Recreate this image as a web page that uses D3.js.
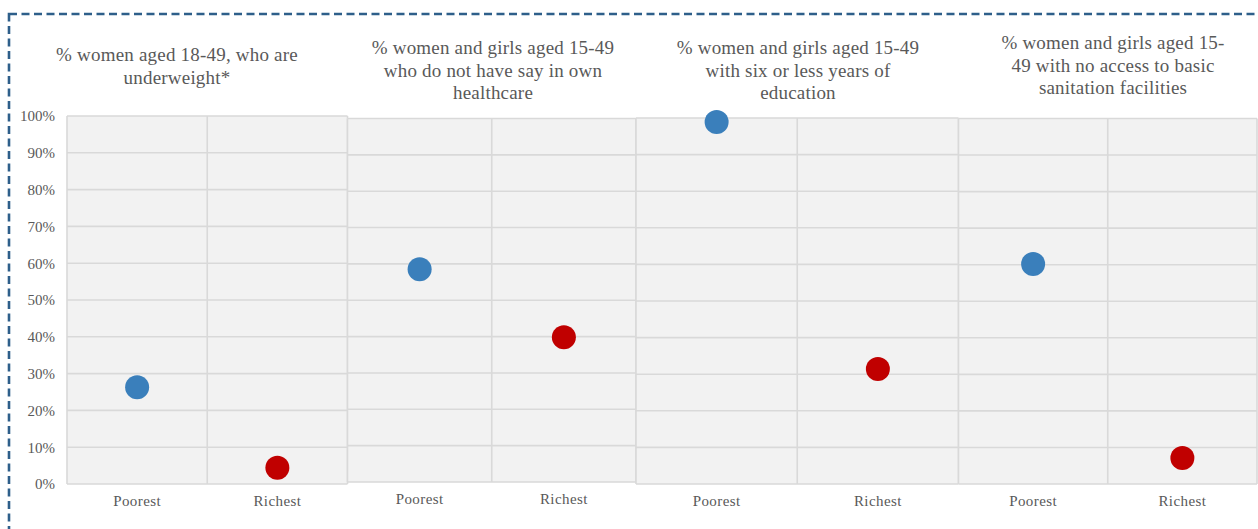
<!DOCTYPE html>
<html>
<head>
<meta charset="utf-8">
<script src="https://cdn.jsdelivr.net/npm/d3@7/dist/d3.min.js"></script>
<style>
  html, body { margin: 0; padding: 0; background: #ffffff; }
  svg { display: block; }
  text, tspan { font-family: "Liberation Serif", "DejaVu Serif", serif; fill: #595959; }
</style>
</head>
<body>
<svg id="chart" width="1258" height="529"></svg>
<script>
// ---- data ----
const categories = ["Poorest", "Richest"];
const panelTitles = [
  ["% women aged 18-49, who are", "underweight*"],
  ["% women and girls aged 15-49", "who do not have say in own", "healthcare"],
  ["% women and girls aged 15-49", "with six  or less years of", "education"],
  ["% women and girls aged 15-", "49 with no access to basic", "sanitation facilities"]
];
const poorestValues = [26.3, 58.5, 98.9, 60.2];
const richestValues = [4.4, 39.8, 31.4, 7.1];
const yTicks = [0, 10, 20, 30, 40, 50, 60, 70, 80, 90, 100];

// ---- layout (not data) ----
const SERIF = '"Liberation Serif", "DejaVu Serif", serif';
const panels = [
  { left: 67,    right: 347.5, top: 116,   bottom: 484,   titleX: 177,  titleY: 61,  labelY: 506 },
  { left: 347.5, right: 636,   top: 118.5, bottom: 482,   titleX: 493,  titleY: 54,  labelY: 504 },
  { left: 636,   right: 958.5, top: 118,   bottom: 484,   titleX: 798,  titleY: 54,  labelY: 506 },
  { left: 958.5, right: 1257,  top: 118.5, bottom: 484,   titleX: 1113, titleY: 49,  labelY: 506 }
];
const gridColor = "#d9d9d9";
const panelFill = "#f2f2f2";
const poorColor = "#3a7fbb";
const richColor = "#c00000";

const svg = d3.select("#chart");

// dashed outer frame
svg.append("rect")
  .attr("x", 9).attr("y", 14)
  .attr("width", 1270).attr("height", 540)
  .attr("fill", "none")
  .attr("stroke", "#2e5f8a")
  .attr("stroke-width", 2.6)
  .attr("stroke-dasharray", "8,4.5");

panels.forEach((p, i) => {
  const x = d3.scaleBand().domain(categories).range([p.left, p.right]).padding(0);
  const y = d3.scaleLinear().domain([0, 100]).range([p.bottom, p.top]);
  const g = svg.append("g");

  g.append("rect")
    .attr("x", p.left).attr("y", p.top)
    .attr("width", p.right - p.left).attr("height", p.bottom - p.top)
    .attr("fill", panelFill);

  g.selectAll("line.h").data(yTicks).enter().append("line")
    .attr("x1", p.left).attr("x2", p.right)
    .attr("y1", d => y(d)).attr("y2", d => y(d))
    .attr("stroke", gridColor).attr("stroke-width", 1.6);

  const bounds = categories.map(c => x(c)).concat([p.right]);
  g.selectAll("line.v").data(bounds).enter().append("line")
    .attr("x1", d => d).attr("x2", d => d)
    .attr("y1", p.top).attr("y2", p.bottom)
    .attr("stroke", gridColor).attr("stroke-width", 1.6);

  g.selectAll("text.cat").data(categories).enter().append("text")
    .attr("x", d => x(d) + x.bandwidth() / 2)
    .attr("y", p.labelY)
    .attr("text-anchor", "middle")
    .style("font-family", SERIF)
    .attr("font-size", 15)
    .attr("letter-spacing", 0.4)
    .text(d => d);

  const t = g.append("text")
    .attr("text-anchor", "middle")
    .style("font-family", SERIF)
    .attr("font-size", 19)
    .attr("letter-spacing", 0.2);
  panelTitles[i].forEach((line, k) => {
    t.append("tspan")
      .attr("x", p.titleX)
      .attr("y", p.titleY + k * 22.5)
      .style("font-family", SERIF)
      .text(line);
  });

  const pts = [
    { cat: categories[0], v: poorestValues[i], c: poorColor },
    { cat: categories[1], v: richestValues[i], c: richColor }
  ];
  g.selectAll("circle").data(pts).enter().append("circle")
    .attr("cx", d => x(d.cat) + x.bandwidth() / 2)
    .attr("cy", d => y(d.v))
    .attr("r", 12)
    .attr("fill", d => d.c);

  if (i === 0) {
    const axis = d3.axisLeft(y).tickValues(yTicks).tickSize(0).tickPadding(12)
      .tickFormat(d => d + "%");
    const ag = svg.append("g").attr("transform", `translate(${p.left},0)`).call(axis);
    ag.attr("font-family", null);
    ag.select(".domain").remove();
    ag.selectAll("text")
      .attr("font-size", 15)
      .attr("fill", "#595959")
      .style("font-family", SERIF);
  }
});
</script>
</body>
</html>
